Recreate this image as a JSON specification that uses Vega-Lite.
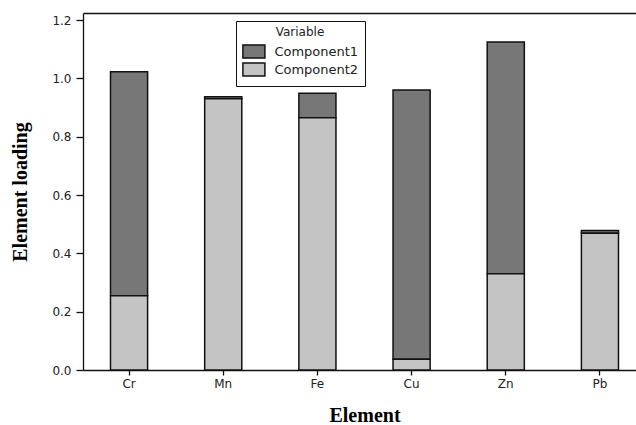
{
  "$schema": "https://vega.github.io/schema/vega-lite/v6.json",
  "autosize": {"type": "none"},
  "padding": {"left": 83, "top": 13, "right": 0, "bottom": 55},
  "width": 553,
  "height": 357,
  "background": "white",
  "config": {
    "view": {"stroke": null},
    "axis": {
      "domainColor": "#111",
      "domainWidth": 1.3,
      "tickColor": "#111",
      "tickWidth": 1.3,
      "labelFont": "DejaVu Sans",
      "labelFontSize": 12,
      "labelColor": "#222",
      "titleFont": "Liberation Serif",
      "titleFontWeight": "bold",
      "titleFontSize": 20,
      "titleColor": "#000",
      "grid": false
    }
  },
  "data": {
    "values": [
      {"Element": "Cr", "Variable": "Component1", "Loading": 0.768},
      {"Element": "Cr", "Variable": "Component2", "Loading": 0.255},
      {"Element": "Mn", "Variable": "Component1", "Loading": 0.007},
      {"Element": "Mn", "Variable": "Component2", "Loading": 0.930},
      {"Element": "Fe", "Variable": "Component1", "Loading": 0.084},
      {"Element": "Fe", "Variable": "Component2", "Loading": 0.865},
      {"Element": "Cu", "Variable": "Component1", "Loading": 0.923},
      {"Element": "Cu", "Variable": "Component2", "Loading": 0.037},
      {"Element": "Zn", "Variable": "Component1", "Loading": 0.795},
      {"Element": "Zn", "Variable": "Component2", "Loading": 0.330},
      {"Element": "Pb", "Variable": "Component1", "Loading": 0.009},
      {"Element": "Pb", "Variable": "Component2", "Loading": 0.469}
    ]
  },
  "layer": [
    {
      "mark": {"type": "bar", "stroke": "#111", "strokeWidth": 1.5},
      "encoding": {
        "x": {
          "field": "Element",
          "type": "nominal",
          "sort": ["Cr", "Mn", "Fe", "Cu", "Zn", "Pb"],
          "scale": {"range": [0, 563], "paddingInner": 0.606, "paddingOuter": 0.292},
          "axis": {"orient": "bottom", "labelAngle": 0, "tickSize": 5, "labelPadding": 3, "title": "Element", "titlePadding": 16}
        },
        "y": {
          "field": "Loading",
          "type": "quantitative",
          "stack": "zero",
          "scale": {"domain": [0, 1.224], "nice": false},
          "axis": {"values": [0, 0.2, 0.4, 0.6, 0.8, 1.0, 1.2], "format": ".1f", "tickSize": 7, "labelPadding": 5, "title": "Element loading", "titlePadding": 21}
        },
        "color": {
          "field": "Variable",
          "type": "nominal",
          "scale": {"domain": ["Component1", "Component2"], "range": ["#777777", "#c4c4c4"]},
          "legend": {
            "orient": "none",
            "legendX": 153,
            "legendY": 8,
            "title": "Variable",
            "titleAnchor": "middle",
            "titleFont": "DejaVu Sans",
            "titleFontSize": 12,
            "titleFontWeight": "normal",
            "titleColor": "#222",
            "titlePadding": 5,
            "labelFont": "DejaVu Sans",
            "labelFontSize": 13,
            "labelColor": "#222",
            "labelOffset": 13,
            "symbolType": "M-1.667,-1H1.667V1H-1.667Z",
            "symbolSize": 174,
            "symbolOffset": 4.4,
            "symbolStrokeColor": "#111",
            "symbolStrokeWidth": 1.5,
            "symbolOpacity": 1,
            "strokeColor": "#111",
            "fillColor": "white",
            "padding": 6,
            "rowPadding": -4
          }
        },
        "order": {"field": "Variable", "sort": "descending"}
      }
    },
    {
      "mark": {"type": "bar", "opacity": 0},
      "encoding": {
        "x": {
          "field": "Element",
          "type": "nominal",
          "sort": ["Cr", "Mn", "Fe", "Cu", "Zn", "Pb"],
          "axis": {"orient": "top", "labels": false, "ticks": false, "title": null}
        }
      }
    }
  ],
  "resolve": {"axis": {"x": "independent"}}
}
